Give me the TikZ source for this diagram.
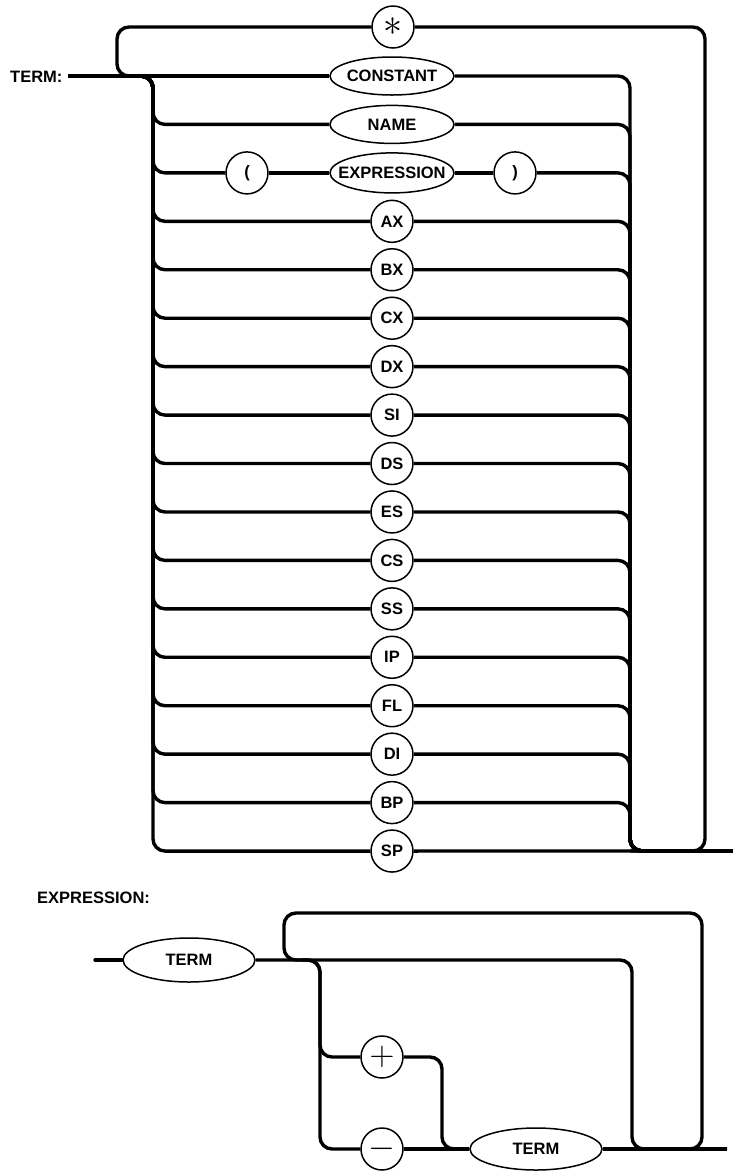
\documentclass[tikz,border=0pt]{standalone}
\usepackage{fontspec}
\setmainfont{Liberation Sans}
\usetikzlibrary{shapes.geometric,calc}
\begin{document}
\begin{tikzpicture}[x=1pt,y=-1pt,
  conn/.style={line width=3.4pt, rounded corners=12pt},
  lbl/.style={font=\fontsize{16.5}{19}\selectfont\bfseries, inner sep=0pt},
  term/.style={circle, draw, line width=1.5pt, minimum size=42pt, inner sep=0pt, fill=white, font=\fontsize{16.5}{19}\selectfont\bfseries},
  oval/.style={ellipse, draw, line width=1.5pt, minimum width=#1, minimum height=38pt, inner sep=0pt, fill=white, font=\fontsize{16.5}{19}\selectfont\bfseries},
  bigoval/.style={oval=#1, minimum height=44pt}
]
\useasboundingbox (0,0) rectangle (733,1171);

% ---------------- TERM ----------------
\node[lbl, anchor=west] (termlbl) at (10,77) {TERM:};
\coordinate (tin) at (68,76);
\coordinate (ll) at (117,76);
\coordinate (bl) at (135,76);
\coordinate (lx) at (153,76);
\coordinate (rx) at (630,76);
\coordinate (ro) at (705,76);
\coordinate (tout) at (733,851);

\node[term] (star) at (393,27) {\scalebox{2.2}{$\ast$}};
\node[oval=124pt] (const) at (392,76) {\makebox[0pt]{CONSTANT}};
\node[oval=124pt] (name) at (392,124.4) {\makebox[0pt]{NAME}};
\node[term] (lp) at (247,172.9) {(};
\node[oval=124pt, minimum height=40pt] (expr) at (392,172.9) {\makebox[0pt]{EXPRESSION}};
\node[term] (rp) at (515,172.9) {)};
\foreach \n [count=\i from 3] in {AX,BX,CX,DX,SI,DS,ES,CS,SS,IP,FL,DI,BP,SP}
  \node[term] (r\i) at (392,{76+48.44*\i}) {\n};

\draw[conn] (tin) -- (const);
\draw[conn] (star) -| (ll) -- (bl);
\draw[conn] (star) -| (ro |- tout) -- (rx |- tout);
\draw[conn] (const) -| (rx |- tout) -- (tout);
\draw[conn] (bl) -| (lx |- name) -- (name);
\draw[conn] (name) -| (rx |- tout) -- (tout);
\draw[conn] (bl) -| (lx |- lp) -- (lp);
\draw[conn] (lp) -- (expr);
\draw[conn] (expr) -- (rp);
\draw[conn] (rp) -| (rx |- tout) -- (tout);
\foreach \i in {3,...,15}{
  \draw[conn] (bl) -| (lx |- r\i) -- (r\i);
  \draw[conn] (r\i) -| (rx |- tout) -- (tout);
}
\draw[conn] (bl) -| (lx |- r16) -- (r16);
\draw[conn] (r16) -- (tout);

% ---------------- EXPRESSION ----------------
\node[lbl, anchor=west] (exlbl) at (37,898) {EXPRESSION:};
\coordinate (ein) at (95,960);
\node[bigoval=132pt] (t1) at (189,960) {\makebox[0pt]{TERM}};
\coordinate (ebl) at (302,960);
\coordinate (elx) at (320,960);
\coordinate (eltop) at (284,913);
\coordinate (erx) at (632,960);
\coordinate (ero) at (702,913);
\coordinate (eout) at (727,1149);
\coordinate (pj) at (442,1057);
\node[term] (plus) at (382,1057) {\scalebox{2}{$+$}};
\node[term] (minus) at (382,1149) {\scalebox{2}{$-$}};
\node[bigoval=132pt, minimum height=42pt] (t2) at (536,1149) {\makebox[0pt]{TERM}};

\draw[conn, line cap=round] (ein) -- (t1);
\draw[conn] (t1) -| (erx |- eout) -- (eout);
\draw[conn] (ebl) -| (eltop) -| (ero |- eout) -- (erx |- eout);
\draw[conn] (ebl) -| (elx |- plus) -- (plus);
\draw[conn] (ebl) -| (elx |- minus) -- (minus);
\draw[conn] (minus) -- (t2);
\draw[conn] (plus) -| (pj |- t2) -- (t2);
\draw[conn] (t2) -- (eout);
\end{tikzpicture}
\end{document}
